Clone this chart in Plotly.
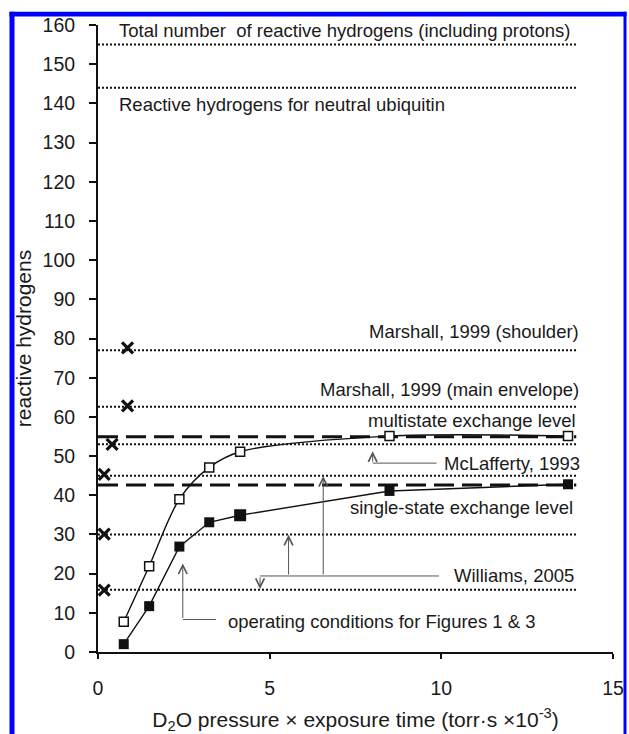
import plotly.graph_objects as go

# ---------------- data ----------------
exposure = [0.75, 1.49, 2.37, 3.24, 4.14, 8.49, 13.69]
multistate_open = [7.7, 21.9, 39.0, 47.1, 51.1, 55.1, 55.1]
singlestate_filled = [2.0, 11.7, 26.9, 33.1, 34.9, 41.1, 42.8]

literature_x = [0.18, 0.18, 0.18, 0.41, 0.86, 0.86]
literature_y = [15.8, 30.1, 45.3, 53.0, 62.8, 77.6]

dotted_levels = [155, 144, 77, 62.6, 53, 45, 30, 15.9]
dashed_levels = [54.9, 42.6]
level_x_end = 13.93

x_ticks = [0, 5, 10, 15]
y_ticks = list(range(0, 161, 10))

# labels
left_labels = ["Total number  of reactive hydrogens (including protons)",
               "Reactive hydrogens for neutral ubiquitin",
               "operating conditions for Figures 1 & 3"]
left_label_x = [0.56, 0.56, 3.72]
left_label_y = [158.5, 139.6, 7.9]

right_labels = ["Marshall, 1999 (shoulder)", "Marshall, 1999 (main envelope)",
                "multistate exchange level", "McLafferty, 1993",
                "single-state exchange level", "Williams, 2005"]
right_label_x = [14.08, 14.08, 13.97, 14.11, 13.89, 13.92]
right_label_y = [81.7, 66.9, 59.0, 48.2, 37.0, 19.4]

# connector lines (horizontal legs)
connector_x0 = [8.0, 4.72, 2.47]
connector_x1 = [9.86, 9.93, 3.44]
connector_y = [48.2, 19.4, 8.3]
# arrows: tail (x, y) -> head (x, y)
arrow_x = [8.0, 4.72, 5.55, 6.56, 2.47]
arrow_tail_y = [48.2, 19.4, 19.4, 19.4, 8.3]
arrow_head_y = [51.2, 16.1, 29.9, 44.9, 22.6]

FONT = "Liberation Sans, Arial, sans-serif"
TXT = "#1a1a1a"
GRAY = "#555555"
LBL = 18.5

fig = go.Figure()

fig.add_trace(go.Scatter(
    x=exposure, y=multistate_open, mode="lines+markers",
    line=dict(color="#111", width=1.4, shape="spline", smoothing=0.9),
    marker=dict(symbol="square", size=9, color="white", opacity=1,
                line=dict(color="#111", width=1.5)),
    cliponaxis=False, showlegend=False))

fig.add_trace(go.Scatter(
    x=exposure, y=singlestate_filled, mode="lines+markers",
    line=dict(color="#111", width=1.4),
    marker=dict(symbol="square", size=[10, 10, 10, 10, 12, 10, 10], color="#111",
                opacity=1, line=dict(width=0)),
    cliponaxis=False, showlegend=False))

fig.add_trace(go.Scatter(
    x=literature_x, y=literature_y, mode="markers",
    marker=dict(symbol="x-thin", size=11, color="#111", opacity=1,
                line=dict(color="#111", width=3.2)),
    cliponaxis=False, showlegend=False))

shapes = []
for lv in dotted_levels:
    shapes.append(dict(type="line", xref="x", yref="y", x0=0, x1=level_x_end,
                       y0=lv, y1=lv, layer="below",
                       line=dict(color="#111", width=2, dash="2px,2px")))
for lv in dashed_levels:
    shapes.append(dict(type="line", xref="x", yref="y", x0=0, x1=level_x_end,
                       y0=lv, y1=lv, layer="below",
                       line=dict(color="#111", width=3, dash="20px,8px")))
for x0, x1, yy in zip(connector_x0, connector_x1, connector_y):
    shapes.append(dict(type="line", xref="x", yref="y", x0=x0, x1=x1,
                       y0=yy, y1=yy, line=dict(color=GRAY, width=1)))

# blue frame (pixel geometry -> paper)
L, R, T, B = 98, 613, 25, 652
def px(v):
    return (v - L) / (R - L)
def py(v):
    return (B - v) / (B - T)
BLUE = "#0000ff"
frame = [(9.5, 626.5, 11.7, 16.5), (9.5, 14.5, 11.7, 745), (623.5, 626.5, 11.7, 745)]
for fx0, fx1, fy0, fy1 in frame:
    shapes.append(dict(type="rect", xref="paper", yref="paper",
                       x0=px(fx0), x1=px(fx1), y0=py(fy0), y1=py(fy1),
                       fillcolor=BLUE, line=dict(width=0), layer="above"))

annotations = []
for t, x, y in zip(left_labels, left_label_x, left_label_y):
    annotations.append(dict(text=t, x=x, y=y, xref="x", yref="y", showarrow=False,
                            xanchor="left", yanchor="middle",
                            font=dict(family=FONT, size=LBL, color=TXT)))
for t, x, y in zip(right_labels, right_label_x, right_label_y):
    annotations.append(dict(text=t, x=x, y=y, xref="x", yref="y", showarrow=False,
                            xanchor="right", yanchor="middle",
                            font=dict(family=FONT, size=LBL, color=TXT)))
for x, ty, hy in zip(arrow_x, arrow_tail_y, arrow_head_y):
    annotations.append(dict(text="", x=x, y=hy, ax=x, ay=ty, xref="x", yref="y",
                            axref="x", ayref="y", showarrow=True, arrowhead=5,
                            arrowsize=1.7, arrowwidth=1, arrowcolor=GRAY,
                            standoff=0, startstandoff=0))

fig.update_layout(
    width=629, height=734,
    margin=dict(l=L, r=629 - R, t=T, b=734 - B, pad=0),
    paper_bgcolor="white", plot_bgcolor="white",
    font=dict(family=FONT, color=TXT),
    shapes=shapes, annotations=annotations,
    xaxis=dict(range=[0, 15], tickvals=x_ticks, ticktext=[str(v) for v in x_ticks],
               showgrid=False, zeroline=False, showline=True, linecolor="#111",
               linewidth=2, ticks="outside", ticklen=5, tickwidth=1.5,
               tickcolor="#111", ticklabelstandoff=13,
               tickfont=dict(family=FONT, size=19.5, color=TXT),
               title=dict(text="D<sub>2</sub>O pressure × exposure time (torr·s ×10<sup>-3</sup>)",
                          font=dict(family=FONT, size=21, color=TXT), standoff=15),
               automargin=False),
    yaxis=dict(range=[0, 160], tickvals=y_ticks,
               showgrid=False, zeroline=False, showline=True, linecolor="#111",
               linewidth=2, ticks="outside", ticklen=7, tickwidth=1.5,
               tickcolor="#111", ticklabelstandoff=10,
               tickfont=dict(family=FONT, size=19.5, color=TXT),
               title=dict(text="reactive hydrogens",
                          font=dict(family=FONT, size=21, color=TXT), standoff=5),
               automargin=False),
)

fig.write_html("out.html")
